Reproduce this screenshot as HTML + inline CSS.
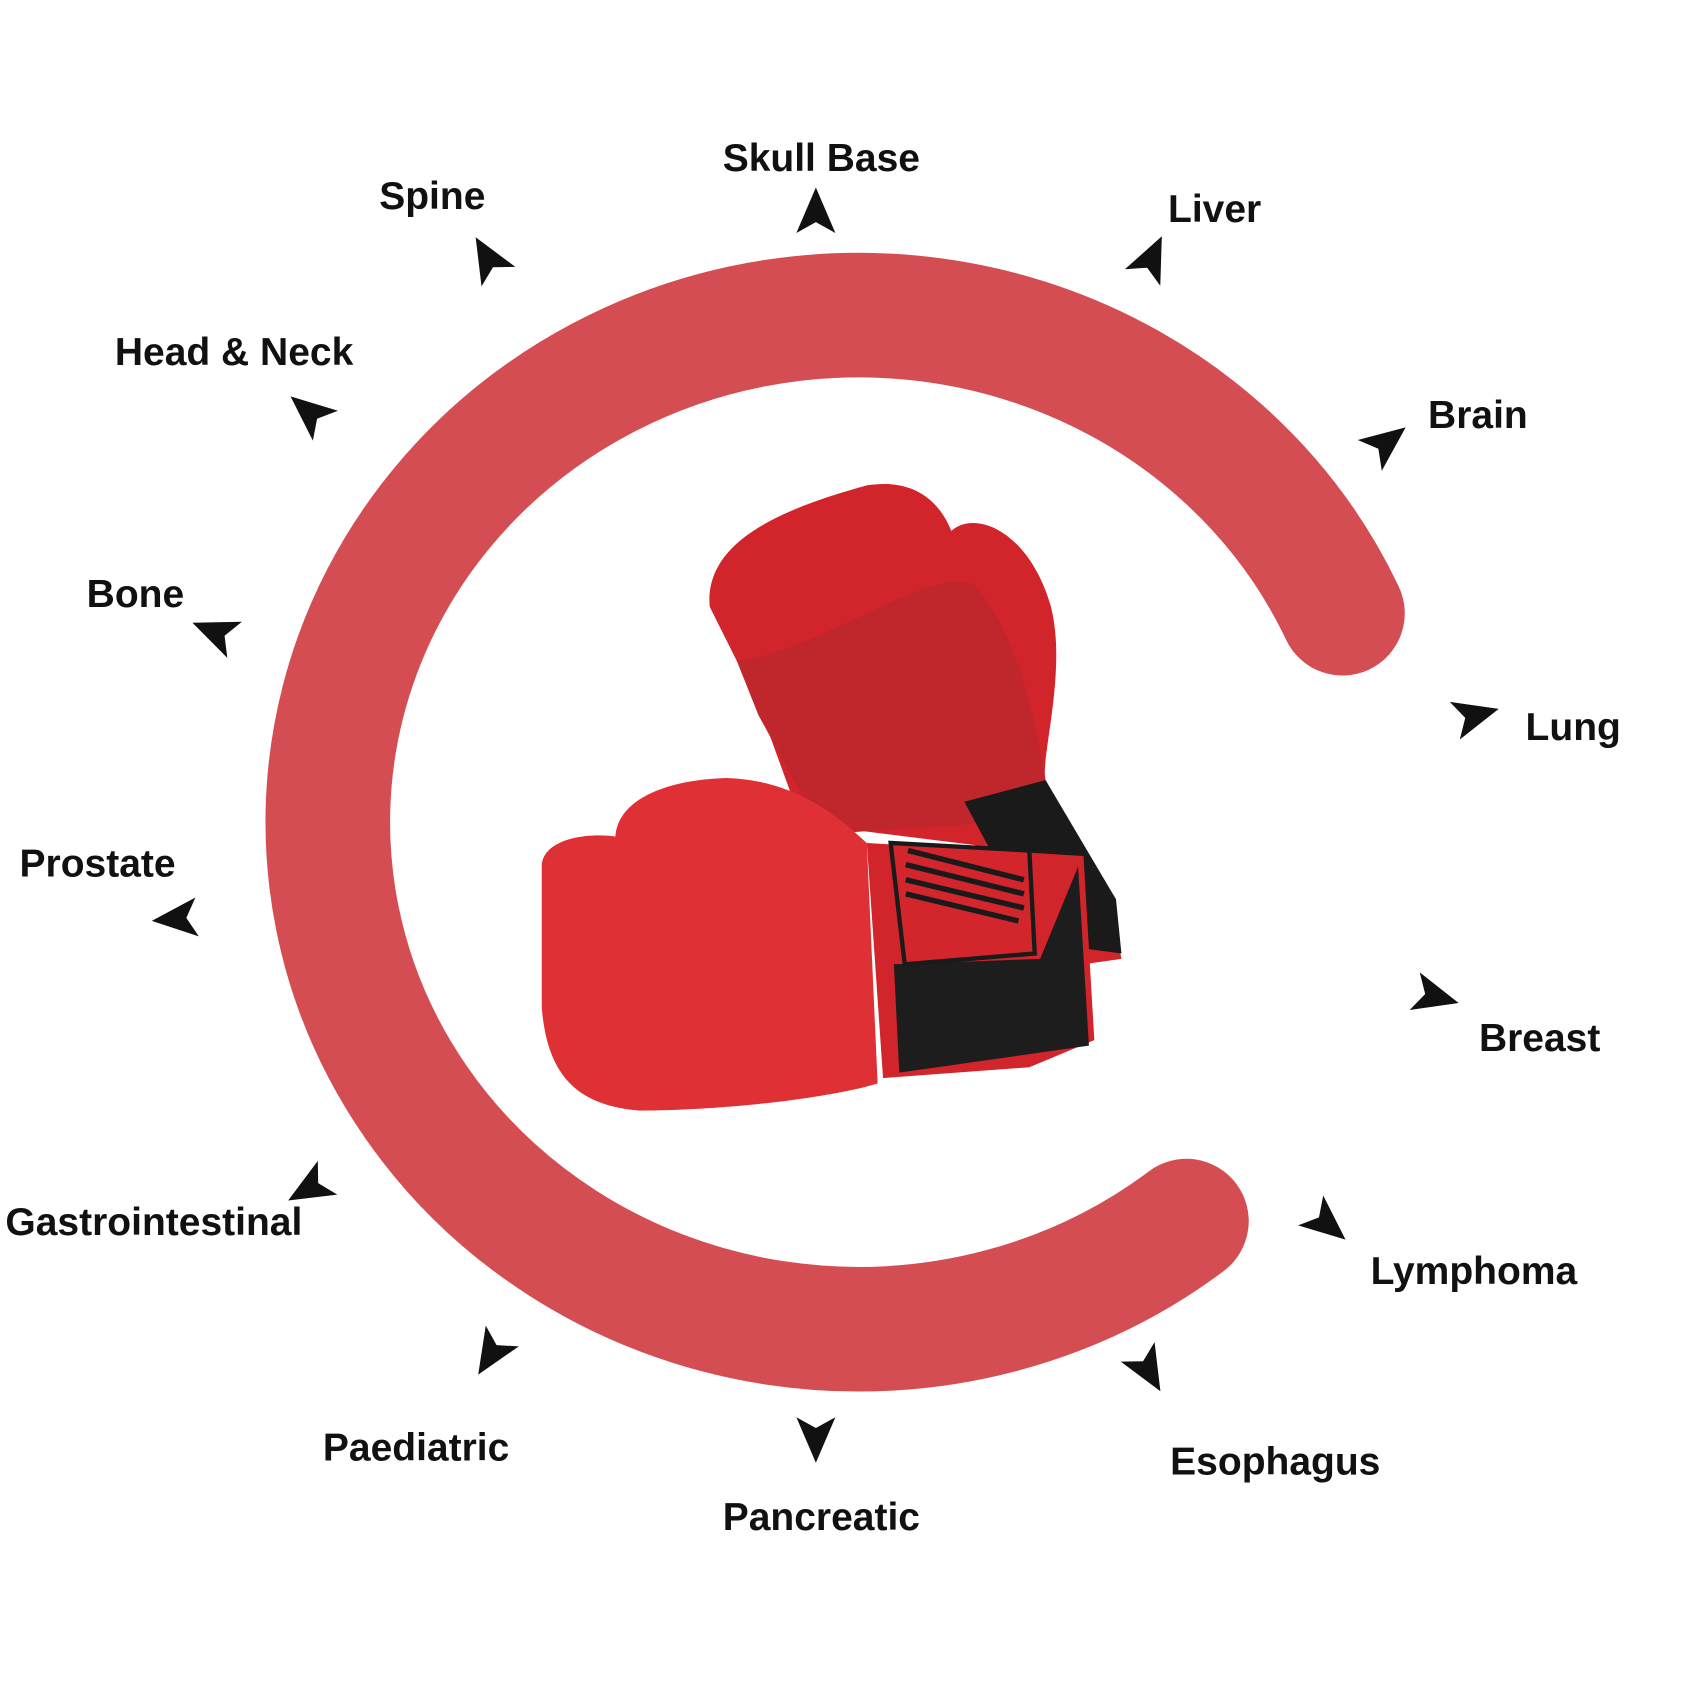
<!DOCTYPE html>
<html><head><meta charset="utf-8"><style>
html,body{margin:0;padding:0;background:#fff;}
svg{display:block}
text{font-family:"Liberation Sans",sans-serif;font-weight:bold;font-size:36px;fill:#111}
</style></head><body>
<svg width="1700" height="1700" viewBox="0 0 1569 1569" xmlns="http://www.w3.org/2000/svg">
<rect width="1569" height="1569" fill="#fff"/>
<path d="M1239,566 A490,468 0 1 0 1095,1127" fill="none" stroke="#d44d52" stroke-width="115" stroke-linecap="round"/>
<g>
<path d="M655,560 C650,500 720,470 800,448 C850,440 870,470 878,490 C900,470 950,490 970,560 C985,620 960,700 965,720 L1025,830 L1035,885 L1000,890 L900,780 L740,760 L700,650 Z" fill="#d2242b"/>
<path d="M680,610 C760,600 860,520 900,540 C950,600 960,700 965,720 L900,760 L760,770 L700,660 Z" fill="#c0272c"/>
<path d="M890,740 L965,720 L1030,830 L1035,880 L960,870 Z" fill="#1a1a1a"/>
<path d="M500,800 C500,775 540,768 568,772 C570,740 610,720 670,718 C740,720 780,760 800,778 L810,1000 C760,1015 660,1025 590,1025 C530,1020 505,990 500,930 Z" fill="#de3035"/>
<path d="M800,778 L1000,790 L1010,960 L950,985 L815,995 Z" fill="#d2242b"/>
<path d="M825,890 L960,885 L995,800 L1005,965 L830,990 Z" fill="#1d1d1d"/>
<path d="M822,778 L950,785 L955,880 L835,890 Z" fill="#d2262c" stroke="#1a1a1a" stroke-width="4"/>
<g stroke="#1a1a1a" stroke-width="5">
<line x1="838" y1="785" x2="945" y2="812"/><line x1="836" y1="798" x2="945" y2="825"/><line x1="836" y1="812" x2="945" y2="838"/><line x1="836" y1="825" x2="940" y2="850"/>
</g>
</g>
<g fill="#111">
<g transform="translate(753,195) rotate(0)"><polygon points="0,-22 18,20 0,10 -18,20"/></g>
<g transform="translate(1063,238) rotate(25)"><polygon points="0,-22 18,20 0,10 -18,20"/></g>
<g transform="translate(1280,408) rotate(52)"><polygon points="0,-22 18,20 0,10 -18,20"/></g>
<g transform="translate(1362,660) rotate(75)"><polygon points="0,-22 18,20 0,10 -18,20"/></g>
<g transform="translate(1325,920) rotate(105)"><polygon points="0,-22 18,20 0,10 -18,20"/></g>
<g transform="translate(1225,1130) rotate(130)"><polygon points="0,-22 18,20 0,10 -18,20"/></g>
<g transform="translate(1060,1265) rotate(150)"><polygon points="0,-22 18,20 0,10 -18,20"/></g>
<g transform="translate(753,1328) rotate(180)"><polygon points="0,-22 18,20 0,10 -18,20"/></g>
<g transform="translate(453,1250) rotate(212)"><polygon points="0,-22 18,20 0,10 -18,20"/></g>
<g transform="translate(285,1097) rotate(240)"><polygon points="0,-22 18,20 0,10 -18,20"/></g>
<g transform="translate(162,848) rotate(265)"><polygon points="0,-22 18,20 0,10 -18,20"/></g>
<g transform="translate(198,583) rotate(292)"><polygon points="0,-22 18,20 0,10 -18,20"/></g>
<g transform="translate(285,380) rotate(310)"><polygon points="0,-22 18,20 0,10 -18,20"/></g>
<g transform="translate(450,238) rotate(330)"><polygon points="0,-22 18,20 0,10 -18,20"/></g>
</g>
<text x="667" y="158">Skull Base</text>
<text x="350" y="193">Spine</text>
<text x="1078" y="205">Liver</text>
<text x="106" y="337">Head &amp; Neck</text>
<text x="1318" y="395">Brain</text>
<text x="80" y="560">Bone</text>
<text x="1408" y="683">Lung</text>
<text x="18" y="809">Prostate</text>
<text x="1365" y="970">Breast</text>
<text x="5" y="1140">Gastrointestinal</text>
<text x="1265" y="1185">Lymphoma</text>
<text x="298" y="1348">Paediatric</text>
<text x="1080" y="1361">Esophagus</text>
<text x="667" y="1412">Pancreatic</text>
</svg>
</body></html>
